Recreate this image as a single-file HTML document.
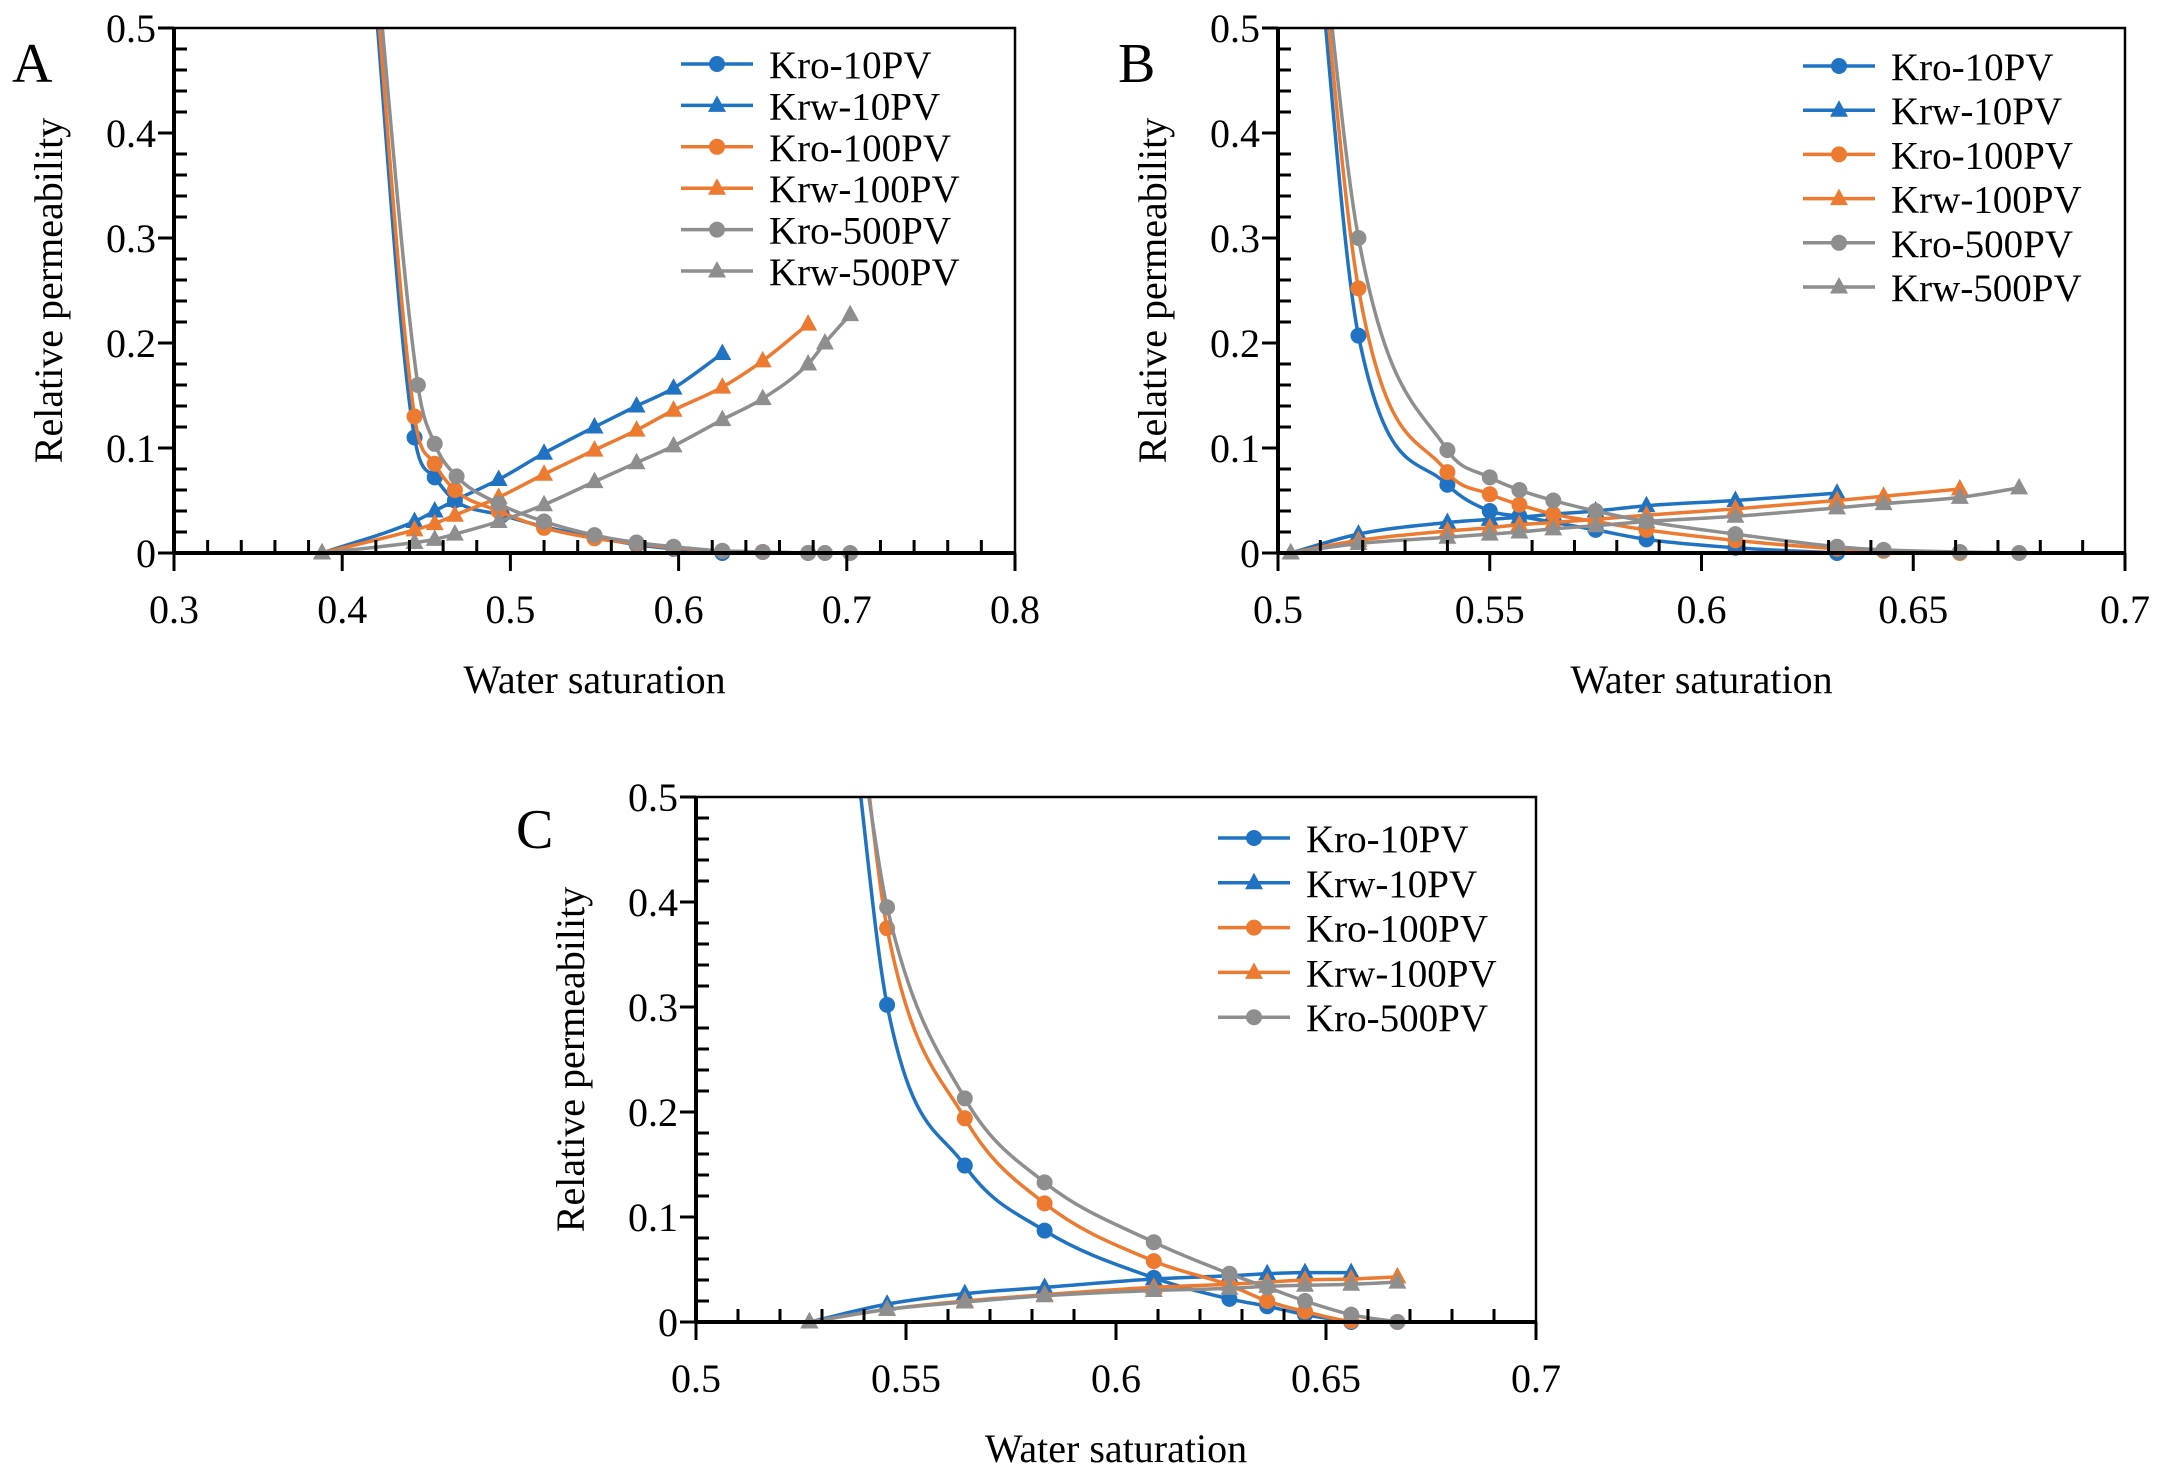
<!DOCTYPE html>
<html><head><meta charset="utf-8"><style>
body{margin:0;background:#fff}
svg{display:block;font-family:"Liberation Serif",serif}
</style></head><body>
<svg id="fig" width="2166" height="1479" viewBox="0 0 2166 1479"></svg>
<script>
// ---------- Panel A data ----------
const aKro10x=[0.415,0.443,0.455,0.467,0.495,0.52,0.55,0.575,0.597,0.626];
const aKro10y=[0.62,0.11,0.072,0.05,0.036,0.025,0.015,0.008,0.004,0.0];
const aKrw10x=[0.388,0.443,0.455,0.467,0.493,0.52,0.55,0.575,0.597,0.626];
const aKrw10y=[0,0.03,0.04,0.05,0.07,0.095,0.12,0.14,0.157,0.19];
const aKro100x=[0.416,0.443,0.455,0.467,0.493,0.52,0.55,0.575,0.597,0.626,0.65,0.677];
const aKro100y=[0.62,0.13,0.085,0.06,0.04,0.024,0.014,0.009,0.005,0.002,0.001,0];
const aKrw100x=[0.388,0.443,0.455,0.467,0.493,0.52,0.55,0.575,0.597,0.626,0.65,0.677];
const aKrw100y=[0,0.022,0.028,0.036,0.053,0.075,0.098,0.117,0.136,0.158,0.183,0.218];
const aKro500x=[0.417,0.445,0.455,0.468,0.493,0.52,0.55,0.575,0.597,0.626,0.65,0.677,0.687,0.702];
const aKro500y=[0.62,0.16,0.104,0.073,0.047,0.03,0.017,0.01,0.006,0.002,0.001,0,0,0];
const aKrw500x=[0.388,0.443,0.455,0.467,0.493,0.52,0.55,0.575,0.597,0.626,0.65,0.677,0.687,0.702];
const aKrw500y=[0,0.01,0.013,0.018,0.03,0.046,0.068,0.086,0.102,0.127,0.147,0.18,0.2,0.227];
// ---------- Panel B data ----------
const bKro10x=[0.5085,0.519,0.54,0.55,0.557,0.575,0.587,0.608,0.632];
const bKro10y=[0.62,0.207,0.065,0.04,0.035,0.022,0.013,0.005,0.0];
const bKrw10x=[0.503,0.519,0.54,0.55,0.557,0.565,0.575,0.587,0.608,0.632];
const bKrw10y=[0,0.018,0.029,0.032,0.034,0.037,0.04,0.045,0.05,0.057];
const bKro100x=[0.509,0.519,0.54,0.55,0.557,0.565,0.575,0.587,0.608,0.632,0.643,0.661];
const bKro100y=[0.62,0.252,0.077,0.056,0.046,0.037,0.03,0.022,0.012,0.004,0.002,0];
const bKrw100x=[0.503,0.519,0.54,0.55,0.557,0.565,0.575,0.587,0.608,0.632,0.643,0.661];
const bKrw100y=[0,0.012,0.021,0.024,0.027,0.029,0.032,0.036,0.042,0.05,0.054,0.061];
const bKro500x=[0.5095,0.519,0.54,0.55,0.557,0.565,0.575,0.587,0.608,0.632,0.643,0.661,0.675];
const bKro500y=[0.62,0.3,0.098,0.072,0.06,0.05,0.04,0.03,0.018,0.006,0.003,0.001,0];
const bKrw500x=[0.503,0.519,0.54,0.55,0.557,0.565,0.575,0.587,0.608,0.632,0.643,0.661,0.675];
const bKrw500y=[0,0.009,0.015,0.018,0.02,0.023,0.026,0.03,0.035,0.043,0.047,0.053,0.062];
// ---------- Panel C data ----------
const cKro10x=[0.5375,0.5455,0.564,0.583,0.609,0.627,0.636,0.645,0.656];
const cKro10y=[0.56,0.302,0.149,0.087,0.042,0.022,0.015,0.007,0];
const cKrw10x=[0.527,0.5455,0.564,0.583,0.609,0.627,0.636,0.645,0.656];
const cKrw10y=[0,0.017,0.027,0.033,0.041,0.044,0.046,0.047,0.047];
const cKro100x=[0.5395,0.5455,0.564,0.583,0.609,0.627,0.636,0.645,0.656,0.667];
const cKro100y=[0.56,0.375,0.194,0.113,0.058,0.035,0.02,0.01,0.001,0];
const cKrw100x=[0.527,0.5455,0.564,0.583,0.609,0.627,0.636,0.645,0.656,0.667];
const cKrw100y=[0,0.012,0.02,0.026,0.033,0.036,0.038,0.04,0.041,0.043];
const cKro500x=[0.54,0.5455,0.564,0.583,0.609,0.627,0.636,0.645,0.656,0.667];
const cKro500y=[0.53,0.395,0.213,0.133,0.076,0.046,0.033,0.02,0.007,0];
const cKrw500x=[0.527,0.5455,0.564,0.583,0.609,0.627,0.636,0.645,0.656,0.667];
const cKrw500y=[0,0.012,0.019,0.025,0.03,0.032,0.034,0.035,0.036,0.038];

const yTicks=["0","0.1","0.2","0.3","0.4","0.5"];
const aXTicks=["0.3","0.4","0.5","0.6","0.7","0.8"];
const bXTicks=["0.5","0.55","0.6","0.65","0.7"];
const cXTicks=["0.5","0.55","0.6","0.65","0.7"];
const legendA=["Kro-10PV","Krw-10PV","Kro-100PV","Krw-100PV","Kro-500PV","Krw-500PV"];
const legendC=["Kro-10PV","Krw-10PV","Kro-100PV","Krw-100PV","Kro-500PV"];

const BLUE="#1f73c2",ORANGE="#ec7a30",GREY="#8e8e8e";
const FONT='"Liberation Serif", serif';
const NS="http://www.w3.org/2000/svg";
const svg=document.getElementById('fig');
function mk(tag,attrs,parent){const e=document.createElementNS(NS,tag);for(const k in attrs)e.setAttribute(k,attrs[k]);(parent||svg).appendChild(e);return e;}
function tx(attrs,parent,str){attrs['font-family']=FONT;const e=mk('text',attrs,parent);e.textContent=str;return e;}

function monoPath(px,py){
  const n=px.length;if(n<2)return "";
  const d=[],m=[];
  for(let i=0;i<n-1;i++)d.push((py[i+1]-py[i])/(px[i+1]-px[i]));
  m[0]=d[0];m[n-1]=d[n-2];
  for(let i=1;i<n-1;i++){m[i]=(d[i-1]*d[i]<=0)?0:(d[i-1]+d[i])/2;}
  for(let i=0;i<n-1;i++){if(d[i]===0){m[i]=0;m[i+1]=0;continue;}
    const a=m[i]/d[i],b=m[i+1]/d[i],s=a*a+b*b;if(s>9){const t=3/Math.sqrt(s);m[i]=t*a*d[i];m[i+1]=t*b*d[i];}}
  let p="M"+px[0]+","+py[0];
  for(let i=0;i<n-1;i++){const h=(px[i+1]-px[i])/3;
    p+=" C"+(px[i]+h)+","+(py[i]+m[i]*h)+" "+(px[i+1]-h)+","+(py[i+1]-m[i+1]*h)+" "+px[i+1]+","+py[i+1];}
  return p;
}
function tri(cx,cy){return cx+","+(cy-10)+" "+(cx-9)+","+(cy+6.5)+" "+(cx+9)+","+(cy+6.5);}

function panel(cfg){
  const g=mk('g',{},svg);
  
  
  const {x0,x1,y0,y1,xmin,xmax}=cfg;
  const X=v=>x0+(v-xmin)/(xmax-xmin)*(x1-x0);
  const Y=v=>y0-(v/0.5)*(y0-y1);
  const clipId='clip'+cfg.id;
  const cp=mk('clipPath',{id:clipId},g);mk('rect',{x:x0-20,y:y1,width:x1-x0+40,height:y0-y1+20},cp);
  cfg.series.forEach(s=>{
    const sg=mk('g',{'clip-path':'url(#'+clipId+')'},g);
    
    
    const px=s.x.map(X),py=s.y.map(Y);
    mk('path',{d:monoPath(px,py),fill:'none',stroke:s.c,'stroke-width':3.5},sg);
    s.x.forEach((v,i)=>{
      if(s.y[i]>0.5)return;
      const cx=X(v),cy=Y(s.y[i]);
      let mEl;
      if(s.m==='o')mEl=mk('circle',{cx:cx,cy:cy,r:8,fill:s.c},sg);
      else mEl=mk('polygon',{points:tri(cx,cy),fill:s.c},sg);
      
      
    });
  });
  const fr=mk('rect',{x:x0,y:y1,width:x1-x0,height:y0-y1,fill:'none',stroke:'#000','stroke-width':2.5},g);
  
  
  mk('line',{x1:x0,y1:y0,x2:x1,y2:y0,stroke:'#000','stroke-width':4},g);
  mk('line',{x1:x0,y1:y0,x2:x0,y2:y1,stroke:'#000','stroke-width':4},g);
  for(let k=0;k<=25;k++){const v=k*0.02,yy=Y(v),maj=(k%5===0);
    mk('line',{x1:x0-(maj?16:0),y1:yy,x2:x0+(maj?0:13),y2:yy,stroke:'#000','stroke-width':3},g);}
  yTicks.forEach((t,i)=>{const te=tx({x:x0-18,y:Y(i*0.1)+14,'text-anchor':'end','font-size':40},g,t);
    });
  const nMin=Math.round((xmax-xmin)/cfg.minor);
  for(let k=0;k<=nMin;k++){const xx=X(xmin+k*cfg.minor),maj=(k%cfg.per===0);
    mk('line',{x1:xx,y1:y0+(maj?18:0),x2:xx,y2:y0-(maj?0:13),stroke:'#000','stroke-width':3},g);}
  cfg.xt.forEach((t,i)=>{const te=tx({x:X(xmin+i*cfg.minor*cfg.per),y:y0+70,'text-anchor':'middle','font-size':40},g,t);
    });
  const xt=tx({x:(x0+x1)/2,y:y0+140,'text-anchor':'middle','font-size':40},g,'Water saturation');
  
  const yt=tx({x:0,y:0,'text-anchor':'middle','font-size':40,transform:'translate('+(x0-112)+','+((y0+y1)/2)+') rotate(-90)'},g,'Relative permeability');
  
  const pl=tx({x:cfg.lx,y:cfg.ly,'font-size':56},g,cfg.id);
  
  const lg=mk('g',{},g);
  cfg.legend.forEach((name,i)=>{const s=cfg.series[i];const yy=cfg.legY+i*cfg.legDy;
    const e=mk('g',{},lg);
    mk('line',{x1:cfg.legX,y1:yy,x2:cfg.legX+72,y2:yy,stroke:s.c,'stroke-width':3.5},e);
    const cx=cfg.legX+36;
    if(s.m==='o')mk('circle',{cx:cx,cy:yy,r:8,fill:s.c},e);
    else mk('polygon',{points:tri(cx,yy),fill:s.c},e);
    tx({x:cfg.legX+88,y:yy+14,'font-size':39},e,name);});
}

panel({id:'A',x0:174,x1:1015,y0:553,y1:28,xmin:0.3,xmax:0.8,minor:0.02,per:5,xt:aXTicks,lx:12,ly:82,
  legend:legendA,legX:681,legY:64,legDy:41.4,
  series:[{name:'Kro-10PV',x:aKro10x,y:aKro10y,c:BLUE,m:'o'},{name:'Krw-10PV',x:aKrw10x,y:aKrw10y,c:BLUE,m:'t'},
  {name:'Kro-100PV',x:aKro100x,y:aKro100y,c:ORANGE,m:'o'},{name:'Krw-100PV',x:aKrw100x,y:aKrw100y,c:ORANGE,m:'t'},
  {name:'Kro-500PV',x:aKro500x,y:aKro500y,c:GREY,m:'o'},{name:'Krw-500PV',x:aKrw500x,y:aKrw500y,c:GREY,m:'t'}]});
panel({id:'B',x0:1278,x1:2125,y0:553,y1:28,xmin:0.5,xmax:0.7,minor:0.01,per:5,xt:bXTicks,lx:1118,ly:82,
  legend:legendA,legX:1803,legY:66,legDy:44.2,
  series:[{name:'Kro-10PV',x:bKro10x,y:bKro10y,c:BLUE,m:'o'},{name:'Krw-10PV',x:bKrw10x,y:bKrw10y,c:BLUE,m:'t'},
  {name:'Kro-100PV',x:bKro100x,y:bKro100y,c:ORANGE,m:'o'},{name:'Krw-100PV',x:bKrw100x,y:bKrw100y,c:ORANGE,m:'t'},
  {name:'Kro-500PV',x:bKro500x,y:bKro500y,c:GREY,m:'o'},{name:'Krw-500PV',x:bKrw500x,y:bKrw500y,c:GREY,m:'t'}]});
panel({id:'C',x0:696,x1:1536,y0:1322,y1:797,xmin:0.5,xmax:0.7,minor:0.01,per:5,xt:cXTicks,lx:516,ly:848,
  legend:legendC,legX:1218,legY:838,legDy:44.8,
  series:[{name:'Kro-10PV',x:cKro10x,y:cKro10y,c:BLUE,m:'o'},{name:'Krw-10PV',x:cKrw10x,y:cKrw10y,c:BLUE,m:'t'},
  {name:'Kro-100PV',x:cKro100x,y:cKro100y,c:ORANGE,m:'o'},{name:'Krw-100PV',x:cKrw100x,y:cKrw100y,c:ORANGE,m:'t'},
  {name:'Kro-500PV',x:cKro500x,y:cKro500y,c:GREY,m:'o'},{name:'Krw-500PV',x:cKrw500x,y:cKrw500y,c:GREY,m:'t'}]});
</script>
</body></html>
